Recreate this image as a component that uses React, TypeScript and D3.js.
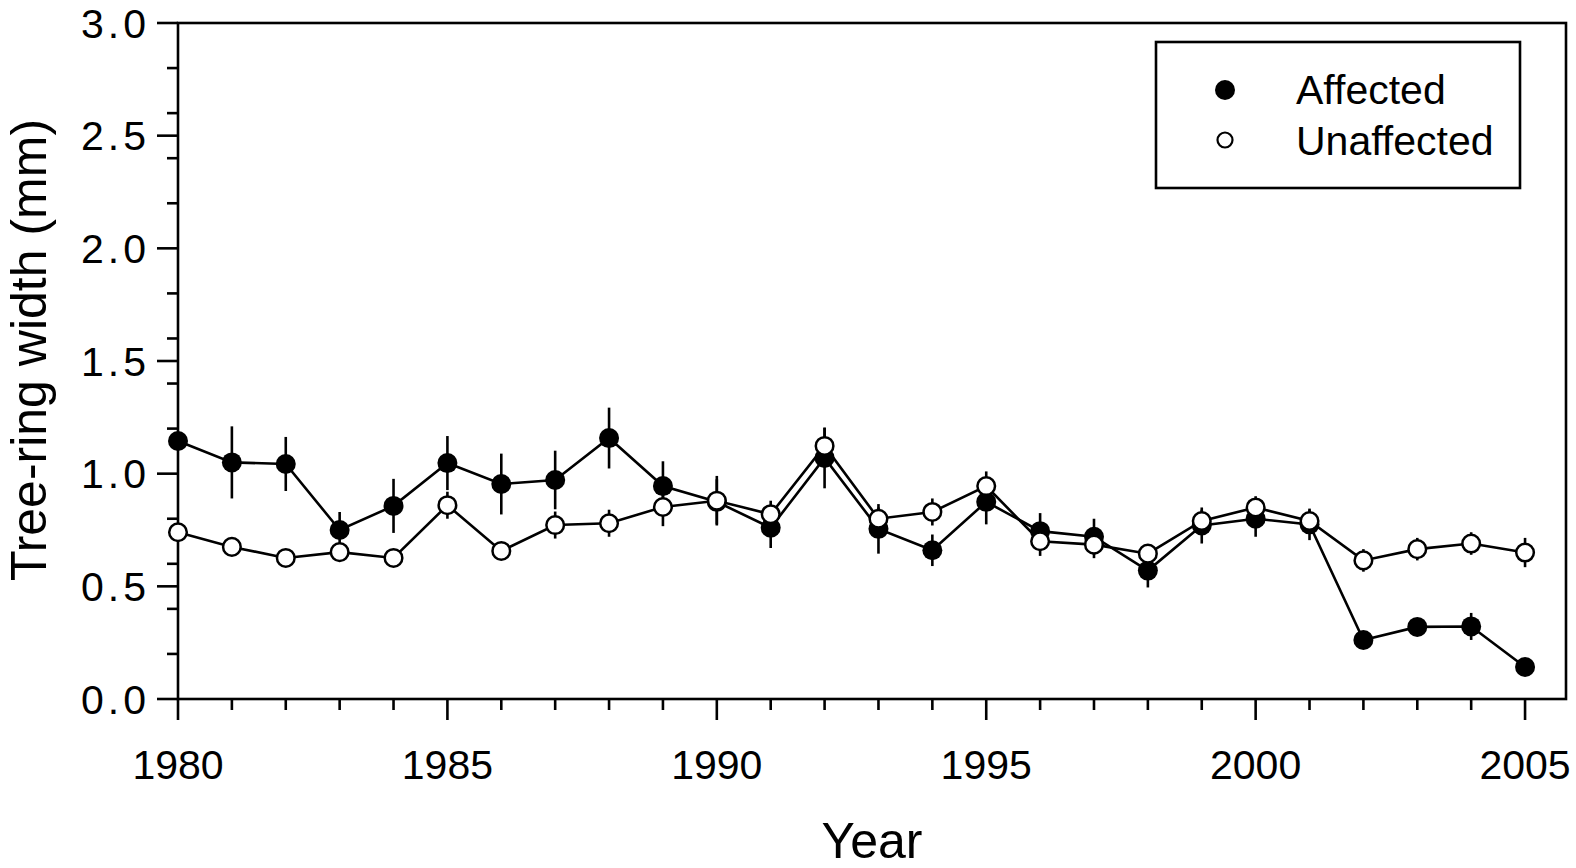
import React from 'react';
import * as d3 from 'd3';

// Tree-ring width (mm), mean and standard error per year
const years = [
  1980, 1981, 1982, 1983, 1984, 1985, 1986, 1987, 1988, 1989, 1990, 1991, 1992,
  1993, 1994, 1995, 1996, 1997, 1998, 1999, 2000, 2001, 2002, 2003, 2004, 2005,
];

const affected = [
  1.145, 1.05, 1.043, 0.75, 0.857, 1.047, 0.954, 0.972, 1.158, 0.945, 0.875, 0.76, 1.07,
  0.755, 0.66, 0.875, 0.745, 0.72, 0.57, 0.77, 0.8, 0.775, 0.262, 0.32, 0.322, 0.142,
];
const affectedErr = [
  0.04, 0.16, 0.12, 0.08, 0.12, 0.12, 0.135, 0.13, 0.135, 0.11, 0.1, 0.09, 0.135,
  0.11, 0.07, 0.1, 0.08, 0.08, 0.075, 0.08, 0.08, 0.07, 0.03, 0.03, 0.06, 0.03,
];

const unaffected = [
  0.74, 0.675, 0.626, 0.652, 0.626, 0.86, 0.657, 0.772, 0.78, 0.852, 0.88, 0.82, 1.123,
  0.8, 0.83, 0.945, 0.7, 0.685, 0.645, 0.79, 0.85, 0.79, 0.615, 0.665, 0.69, 0.65,
];
const unaffectedErr = [
  0.03, 0.04, 0.04, 0.04, 0.04, 0.06, 0.03, 0.06, 0.06, 0.085, 0.11, 0.06, 0.08,
  0.05, 0.06, 0.065, 0.065, 0.06, 0.04, 0.05, 0.05, 0.05, 0.05, 0.05, 0.05, 0.065,
];

const seriesNames = ['Affected', 'Unaffected'];

const WIDTH = 1576;
const HEIGHT = 868;
const FONT = '"Liberation Sans", Arial, sans-serif';

export default function App() {
  const x = d3.scaleLinear().domain([1980, 2005.76]).range([178, 1566]);
  const y = d3.scaleLinear().domain([0, 3]).range([699, 23]);

  const line = d3
    .line<[number, number]>()
    .x(d => x(d[0]))
    .y(d => y(d[1]));

  const affPts = years.map((yr, i) => [yr, affected[i]] as [number, number]);
  const unaffPts = years.map((yr, i) => [yr, unaffected[i]] as [number, number]);

  const yMajor = y.ticks(6);
  const yMinor = y.ticks(12).filter(v => !yMajor.includes(v));
  const xMajor = x.ticks(5);
  const xMinor = years.filter(v => !xMajor.includes(v));

  const [x0, x1] = x.range();
  const [y0, y1] = y.range();
  const sw = 2.6;

  return (
    <svg
      width={WIDTH}
      height={HEIGHT}
      style={{ position: 'absolute', left: 0, top: 0, display: 'block', background: '#fff' }}
      fontFamily={FONT}
    >
      {/* frame */}
      <rect x={x0} y={y1} width={x1 - x0} height={y0 - y1} fill="none" stroke="#000" strokeWidth={sw} />

      {/* y axis ticks */}
      {yMajor.map(v => (
        <g key={'ym' + v}>
          <line x1={x0 - 21} x2={x0} y1={y(v)} y2={y(v)} stroke="#000" strokeWidth={sw} />
          <text x={x0 - 28} y={y(v)} dy="0.36em" textAnchor="end" fontSize={41} letterSpacing={4}>
            {v.toFixed(1)}
          </text>
        </g>
      ))}
      {yMinor.map(v => (
        <line key={'yn' + v} x1={x0 - 11} x2={x0} y1={y(v)} y2={y(v)} stroke="#000" strokeWidth={sw} />
      ))}

      {/* x axis ticks */}
      {xMajor.map(v => (
        <g key={'xm' + v}>
          <line x1={x(v)} x2={x(v)} y1={y0} y2={y0 + 21} stroke="#000" strokeWidth={sw} />
          <text x={x(v)} y={779} textAnchor="middle" fontSize={41}>
            {v}
          </text>
        </g>
      ))}
      {xMinor.map(v => (
        <line key={'xn' + v} x1={x(v)} x2={x(v)} y1={y0} y2={y0 + 11} stroke="#000" strokeWidth={sw} />
      ))}

      {/* axis titles */}
      <text x={(x0 + x1) / 2} y={858} textAnchor="middle" fontSize={50}>
        Year
      </text>
      <text transform="translate(46,350) rotate(-90)" textAnchor="middle" fontSize={50}>
        Tree-ring width (mm)
      </text>

      {/* lines */}
      <path d={line(affPts) || ''} fill="none" stroke="#000" strokeWidth={sw} />
      <path d={line(unaffPts) || ''} fill="none" stroke="#000" strokeWidth={sw} />

      {/* error bars */}
      {years.map((yr, i) => (
        <line
          key={'ea' + yr}
          x1={x(yr)}
          x2={x(yr)}
          y1={y(affected[i] - affectedErr[i])}
          y2={y(affected[i] + affectedErr[i])}
          stroke="#000"
          strokeWidth={sw}
        />
      ))}
      {years.map((yr, i) => (
        <line
          key={'eu' + yr}
          x1={x(yr)}
          x2={x(yr)}
          y1={y(unaffected[i] - unaffectedErr[i])}
          y2={y(unaffected[i] + unaffectedErr[i])}
          stroke="#000"
          strokeWidth={sw}
        />
      ))}

      {/* markers */}
      {affPts.map(d => (
        <circle key={'ma' + d[0]} cx={x(d[0])} cy={y(d[1])} r={10} fill="#000" />
      ))}
      {unaffPts.map(d => (
        <circle
          key={'mu' + d[0]}
          cx={x(d[0])}
          cy={y(d[1])}
          r={8.8}
          fill="#fff"
          stroke="#000"
          strokeWidth={2.5}
        />
      ))}

      {/* legend */}
      <rect x={1156} y={42} width={364} height={146} fill="#fff" stroke="#000" strokeWidth={sw} />
      <circle cx={1225} cy={90} r={10} fill="#000" />
      <text x={1296} y={104} fontSize={41}>
        {seriesNames[0]}
      </text>
      <circle cx={1225} cy={140} r={7.5} fill="#fff" stroke="#000" strokeWidth={2.2} />
      <text x={1296} y={155} fontSize={41}>
        {seriesNames[1]}
      </text>
    </svg>
  );
}
